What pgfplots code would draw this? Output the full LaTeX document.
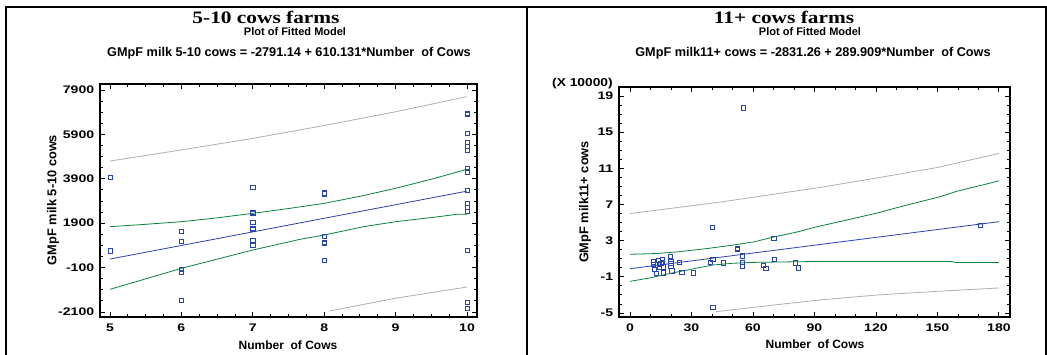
\documentclass[border=0pt]{standalone}
\usepackage{fontspec}
\setmainfont{Liberation Sans}
\newfontfamily\timesf{Liberation Serif}
\usepackage{pgfplots}
\pgfplotsset{compat=1.18}
\definecolor{ptblue}{RGB}{40,70,170}
\definecolor{lnblue}{RGB}{45,65,175}
\definecolor{lngreen}{RGB}{10,130,60}
\definecolor{lngray}{RGB}{175,175,175}
\pgfplotsset{
  sgstyle/.style={
    scale only axis,
    axis line style={line width=1.4pt},
    tick align=inside,
    major tick length=5pt,
    minor tick length=3pt,
    every tick/.style={black,line width=0.9pt},
    ticklabel style={font=\bfseries\fontsize{11}{12}\selectfont, xscale=1.28},
    /pgf/number format/assume math mode=true,
    clip=true,
    yticklabel style={xshift=-1pt},
    xticklabel style={yshift=-3pt},
  },
  pts/.style={only marks, mark=square, mark size=2.1pt, mark options={ptblue, line width=0.7pt}},
  fitl/.style={lnblue, line width=0.8pt, no marks},
  confl/.style={lngreen, line width=0.8pt, no marks},
  predl/.style={lngray, line width=0.8pt, no marks},
}
\begin{document}
\begin{tikzpicture}[x=1pt,y=1pt]
\path[use as bounding box, fill=white] (0,0) rectangle (1047,355);
% borders
\draw[line width=2pt] (6,-5) -- (6,348) -- (1046,348) -- (1046,-5);
\draw[line width=2pt] (527,-5) -- (527,348);
% ---------------- left ----------------
\begin{axis}[sgstyle,
  at={(100pt,38pt)}, anchor=south west,
  width=377pt, height=233pt,
  xmin=4.86, xmax=10.14, ymin=-2325, ymax=8170,
  xtick={5,6,7,8,9,10}, xticklabels={5,6,7,8,9,10},
  minor x tick num=3,
  ytick={-2100,-100,1900,3900,5900,7900},
  yticklabels={-2100,-100,1900,3900,5900,7900},
  minor y tick num=3,
]
\addplot[predl] coordinates {(5,4700) (6,5200) (7,5720) (8,6300) (9,6920) (10,7600)};
\addplot[predl] coordinates {(8.08,-2050) (9,-1480) (10,-975)};
\addplot[confl] coordinates {(5,1742) (5.5,1850) (6,1967) (6.5,2140) (7,2345) (7.5,2560) (8,2793) (8.5,3110) (9,3472) (9.5,3880) (10,4328)};
\addplot[confl] coordinates {(5,-1079) (6,-133) (7,692) (7.66,1173) (8,1368) (8.55,1742) (9,1967) (9.53,2165) (9.86,2300) (10,2300)};
\addplot[fitl] coordinates {(5,285) (10,3345)};
\addplot[pts] coordinates {
(5,3950) (5,650)
(6,1530) (6,1080) (6,-180) (6,-330) (6,-1570)
(7,3520) (7,2390) (7,2350) (7,1940) (7,1660) (7,1610) (7,1140) (7,900)
(8,3270) (8,3220) (8,1290) (8,1040) (8,980) (8,240)
(10,6830) (10,6790) (10,5930) (10,5530) (10,5350) (10,5170) (10,4370) (10,4210) (10,3380) (10,2790) (10,2610) (10,2420) (10,690) (10,-1680) (10,-1950)
};
\end{axis}
\node[anchor=base, inner sep=0pt, xscale=1.22, font=\timesf\bfseries\fontsize{17.5}{20}\selectfont] at (266,331) {5-10 cows farms};
\node[anchor=base, inner sep=0pt, font=\bfseries\fontsize{11}{12}\selectfont] at (295,319) {Plot of Fitted Model};
\node[anchor=base, font=\bfseries\fontsize{12.7}{14}\selectfont] at (289,298) {GMpF milk 5-10 cows = -2791.14 + 610.131*Number\ \ of Cows};
\node[rotate=90, font=\bfseries\fontsize{12.8}{14}\selectfont] at (53,155) {GMpF milk 5-10 cows};
\node[anchor=base, font=\bfseries\fontsize{12}{13}\selectfont] at (288,5) {Number\ \ of Cows};
% ---------------- right ----------------
\begin{axis}[sgstyle,
  at={(619pt,38pt)}, anchor=south west,
  width=391pt, height=230pt,
  xmin=-5.37, xmax=185.4, ymin=-5.44, ymax=20,
  xtick={0,30,60,90,120,150,180}, xticklabels={0,30,60,90,120,150,180},
  minor x tick num=2,
  ytick={-5,-1,3,7,11,15,19},
  yticklabels={-5,-1,3,7,11,15,19},
  minor y tick num=3,
]
\addplot[predl] coordinates {(0,6.0) (45,7.3) (93,8.9) (121,9.96) (150,11.1) (180,12.65)};
\addplot[predl] coordinates {(42,-4.85) (73.5,-4.03) (93,-3.55) (121,-3.0) (150,-2.6) (180,-2.23)};
\addplot[confl] coordinates {(0,1.5) (13,1.58) (23,1.76) (37.6,2.13) (52.3,2.58) (60.5,2.87) (70.3,3.42) (81.7,3.97) (91,4.53) (106,5.3) (121,6.08) (131,6.7) (151,7.85) (160,8.5) (171.6,9.14) (180,9.62)};
\addplot[confl] coordinates {(0,-1.5) (10,-1.1) (20,-0.6) (30,-0.15) (40,0.3) (50,0.5) (60,0.6) (88,0.69) (157,0.69) (159,0.58) (180,0.58)};
\addplot[fitl] coordinates {(0,-0.1) (180,5.1)};
\addplot[pts] coordinates {
(11.4,0.66) (11.4,0.36) (11.9,-0.19) (12.7,-0.64) (13.9,0.84) (14.4,0.36) (14.2,0.03)
(15,0.47) (15.7,0.92) (15.8,0.62) (16.3,0.1) (16.3,-0.56) (19.6,1.28) (19.9,0.73)
(19.9,0.47) (19.9,0.22) (20.4,-0.33) (24.2,0.62) (25.3,-0.5) (31,-0.56) (39.2,0.58)
(40.4,0.98) (40.2,4.5) (40.4,-4.4) (45.4,0.55) (52.3,2.14) (52.3,2.03) (55,1.32)
(55,0.58) (55,0.17) (55.2,17.7) (65.2,0.3) (66.3,-0.1) (70.4,0.9) (70.2,3.25)
(80.7,0.55) (82.3,0.0) (170.9,4.68)
};
\end{axis}
\node[anchor=base, inner sep=0pt, xscale=1.22, font=\timesf\bfseries\fontsize{17.5}{20}\selectfont] at (784,331) {11+ cows farms};
\node[anchor=base, inner sep=0pt, font=\bfseries\fontsize{11}{12}\selectfont] at (810,319) {Plot of Fitted Model};
\node[anchor=base, font=\bfseries\fontsize{12.7}{14}\selectfont] at (813,298) {GMpF milk11+ cows = -2831.26 + 289.909*Number\ \ of Cows};
\node[anchor=base east, inner sep=0pt, xscale=1.2, font=\bfseries\fontsize{11.5}{12}\selectfont] at (613,268) {(X 10000)};
\node[rotate=90, font=\bfseries\fontsize{12.8}{14}\selectfont] at (585,153) {GMpF milk11+ cows};
\node[anchor=base, font=\bfseries\fontsize{12}{13}\selectfont] at (815,6) {Number\ \ of Cows};
\end{tikzpicture}
\end{document}
